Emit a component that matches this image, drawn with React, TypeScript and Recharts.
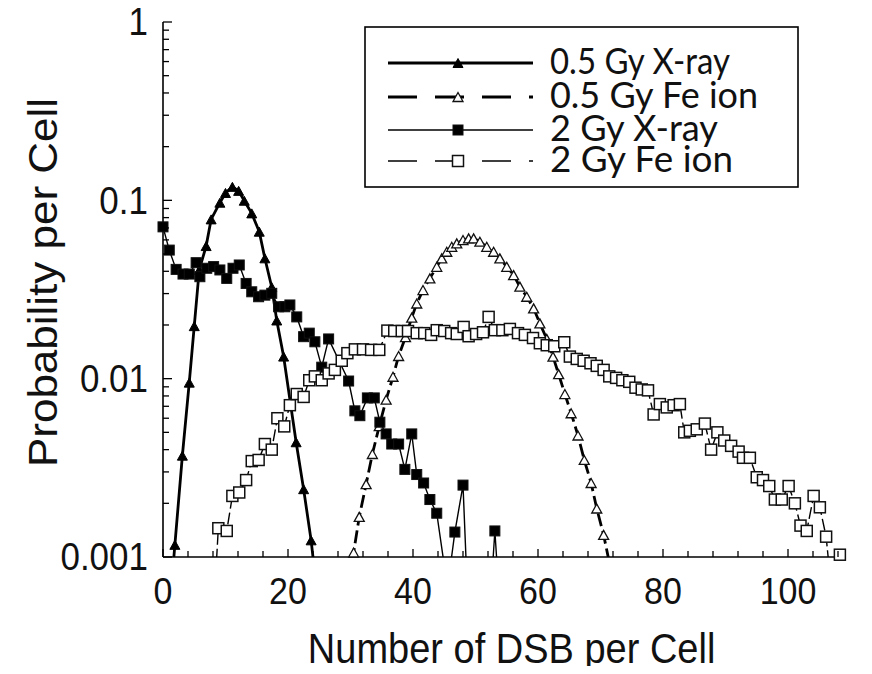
import { Line, LineChart, XAxis, YAxis } from "recharts";

// 0.5 Gy X-ray (solid thick line, filled triangles). Values below 0.001 fall off the log axis.
const xray05X = [0.9, 1.9, 3.1, 4.2, 5.0, 5.8, 6.9, 7.7, 9.1, 10.0, 11.1, 12.1, 13.0, 14.2, 15.4, 16.3, 17.4, 18.2, 19.3, 21.3, 22.5, 23.7, 24.7];
const xray05Y = [0.00044, 0.00117, 0.0037, 0.0095, 0.0197, 0.0407, 0.0554, 0.0782, 0.097, 0.11, 0.119, 0.113, 0.0995, 0.0845, 0.0667, 0.0473, 0.0326, 0.0212, 0.0133, 0.0044, 0.0024, 0.00124, 0.0006];

// 0.5 Gy Fe ion (thick dashed line, open triangles)
const fe05X = [29.4, 30.5, 31.4, 32.5, 33.5, 34.6, 35.7, 36.8, 37.7, 38.8, 39.8, 40.6, 41.6, 42.7, 43.8, 44.6, 45.4, 46.2, 47.0, 48.0, 48.9, 49.7, 50.7, 51.8, 52.9, 53.9, 55.0, 56.1, 57.1, 58.2, 59.3, 60.3, 61.4, 62.4, 63.3, 64.3, 65.3, 66.4, 67.4, 68.5, 69.4, 70.5, 71.5];
const fe05Y = [0.0006, 0.00106, 0.00168, 0.00256, 0.00378, 0.00542, 0.00762, 0.01025, 0.0134, 0.0171, 0.022, 0.0264, 0.0314, 0.0365, 0.0424, 0.0473, 0.0515, 0.0549, 0.0574, 0.0599, 0.0612, 0.0612, 0.0586, 0.0549, 0.0515, 0.0473, 0.0424, 0.0381, 0.0328, 0.0288, 0.0248, 0.0204, 0.0167, 0.0133, 0.0106, 0.0082, 0.0064, 0.0048, 0.0035, 0.0026, 0.00187, 0.00133, 0.0009];

// 2 Gy X-ray (thin solid line, filled squares)
const xray2X = [0, 1.0, 2.1, 3.2, 4.2, 5.3, 5.9, 7.0, 8.1, 9.1, 10.2, 11.2, 12.2, 13.3, 14.2, 15.3, 16.3, 17.4, 18.5, 19.5, 20.3, 21.4, 22.5, 23.4, 24.3, 25.4, 26.5, 29.7, 30.7, 31.5, 32.7, 33.8, 34.7, 35.7, 36.6, 37.7, 38.7, 39.8, 40.6, 41.7, 42.7, 43.8, 45.0, 46.0, 46.7, 48.0, 49.0, 50.0, 51.0, 52.1, 53.1, 54.1];
const xray2Y = [0.071, 0.0526, 0.041, 0.0386, 0.0386, 0.0447, 0.0373, 0.0416, 0.0425, 0.0407, 0.0365, 0.0416, 0.0434, 0.0342, 0.0307, 0.0288, 0.0294, 0.0301, 0.0253, 0.0253, 0.0259, 0.0222, 0.0172, 0.018, 0.0161, 0.0116, 0.0167, 0.0097, 0.0066, 0.0062, 0.0078, 0.0078, 0.0057, 0.0049, 0.0043, 0.0043, 0.0031, 0.0049, 0.0029, 0.0026, 0.0021, 0.00176, 0.0009, 0.0009, 0.00138, 0.00253, 0.00035, 0.0004, 0.0004, 0.0004, 0.0014, 0.0004];

// 2 Gy Fe ion (thin dashed line, open squares)
const fe2X = [7.85, 8.85, 10.2, 11.1, 12.2, 13.3, 14.2, 15.3, 16.3, 17.4, 18.3, 19.4, 20.3, 21.4, 22.5, 23.4, 24.3, 25.4, 26.5, 27.5, 28.6, 29.5, 30.7, 32.0, 33.3, 34.6, 35.9, 37.0, 38.2, 39.2, 40.6, 41.8, 42.9, 43.8, 45.0, 46.1, 47.0, 48.1, 48.9, 50.1, 51.2, 52.1, 53.1, 54.3, 55.5, 56.8, 57.9, 59.2, 60.3, 61.4, 62.6, 64.2, 65.1, 66.2, 67.3, 68.4, 69.4, 70.5, 71.4, 72.5, 73.5, 74.6, 75.6, 76.6, 77.6, 78.5, 79.5, 80.6, 81.7, 82.7, 83.4, 84.3, 85.4, 86.7, 87.7, 88.7, 89.8, 90.9, 92.1, 92.8, 93.9, 95.0, 96.0, 97.0, 97.9, 99.0, 100.1, 101.1, 102.0, 103.0, 104.1, 105.1, 106.1, 107.2, 108.3];
const fe2Y = [0.00034, 0.00145, 0.0014, 0.0022, 0.0023, 0.0027, 0.00345, 0.0035, 0.0043, 0.004, 0.006, 0.0054, 0.0071, 0.0082, 0.0079, 0.0098, 0.0103, 0.0098, 0.0107, 0.0112, 0.0126, 0.0139, 0.0146, 0.0146, 0.0145, 0.0145, 0.0186, 0.0185, 0.0185, 0.0185, 0.018, 0.018, 0.0176, 0.0187, 0.0185, 0.018, 0.0178, 0.0195, 0.0173, 0.0178, 0.0182, 0.0222, 0.0187, 0.0187, 0.019, 0.018, 0.0176, 0.0169, 0.0158, 0.0154, 0.0152, 0.016, 0.0133, 0.0129, 0.0126, 0.0122, 0.0118, 0.0112, 0.0103, 0.0101, 0.0098, 0.0096, 0.0089, 0.0087, 0.0086, 0.0063, 0.0072, 0.0069, 0.0071, 0.0072, 0.005, 0.0051, 0.0052, 0.0056, 0.004, 0.005, 0.0045, 0.0042, 0.0039, 0.0036, 0.0036, 0.0028, 0.0027, 0.0025, 0.0021, 0.0021, 0.0025, 0.002, 0.0015, 0.0014, 0.0022, 0.0019, 0.0013, 0.00053, 0.00103];

const xTicks = [0, 4, 8, 12, 16, 20, 24, 28, 32, 36, 40, 44, 48, 52, 56, 60, 64, 68, 72, 76, 80, 84, 88, 92, 96, 100, 104, 108];
const xTickLabels = [0, 20, 40, 60, 80, 100];
const yTicks = [
  0.001, 0.002, 0.003, 0.004, 0.005, 0.006, 0.007, 0.008, 0.009,
  0.01, 0.02, 0.03, 0.04, 0.05, 0.06, 0.07, 0.08, 0.09,
  0.1, 0.2, 0.3, 0.4, 0.5, 0.6, 0.7, 0.8, 0.9, 1,
];
const yTickLabels: Record<string, string> = { "0.001": "0.001", "0.01": "0.01", "0.1": "0.1", "1": "1" };

type Kind = "triFill" | "triOpen" | "sqFill" | "sqOpen";

// drawing order: bottom first
const series = [
  { name: "0.5 Gy Fe ion", xs: fe05X, ys: fe05Y, width: 2.8, dash: "13 5", marker: "triOpen" as Kind },
  { name: "0.5 Gy X-ray", xs: xray05X, ys: xray05Y, width: 2.8, dash: undefined, marker: "triFill" as Kind },
  { name: "2 Gy X-ray", xs: xray2X, ys: xray2Y, width: 1.4, dash: undefined, marker: "sqFill" as Kind },
  { name: "2 Gy Fe ion", xs: fe2X, ys: fe2Y, width: 1.4, dash: "12 4", marker: "sqOpen" as Kind },
];
const legendOrder = ["0.5 Gy X-ray", "0.5 Gy Fe ion", "2 Gy X-ray", "2 Gy Fe ion"];
const legendTextWidth = [180, 208, 168, 183];

const FLOOR = 0.001;
const AXIS_FONT = "'Liberation Sans', Arial, Helvetica, sans-serif";

// chart layout (chart coordinates)
const W = 856;
const H = 658;
const Y_AXIS_W = 155;
const X_AXIS_H = 109;
const TOP = 14;
const RIGHT = 19.75;
const PLOT_BOTTOM = H - X_AXIS_H;

function Marker({ kind, cx, cy }: { kind: Kind; cx: number; cy: number }) {
  if (kind === "triFill" || kind === "triOpen") {
    const w = 10;
    const h = 9;
    const pts = `${cx - w / 2},${cy + h / 2} ${cx + w / 2},${cy + h / 2} ${cx},${cy - h / 2}`;
    return kind === "triFill" ? (
      <polygon points={pts} fill="#000" stroke="#000" strokeWidth={1} />
    ) : (
      <polygon points={pts} fill="#fff" stroke="#111" strokeWidth={1.3} />
    );
  }
  const s = kind === "sqFill" ? 10 : 11;
  return (
    <rect
      x={cx - s / 2}
      y={cy - s / 2}
      width={s}
      height={s}
      fill={kind === "sqFill" ? "#000" : "#fff"}
      stroke="#111"
      strokeWidth={kind === "sqFill" ? 1 : 1.5}
    />
  );
}

function XTick(props: any) {
  const { x, payload } = props;
  const y = PLOT_BOTTOM;
  const v = payload.value as number;
  const major = xTickLabels.includes(v);
  return (
    <g>
      <line x1={x} x2={x} y1={y} y2={y - (major ? 8 : 6)} stroke="#000" strokeWidth={1.3} />
      {major && (
        <text
          transform={`translate(${x},${y + 47}) scale(1,1.1)`}
          textAnchor="middle"
          fontSize={34}
          fontFamily={AXIS_FONT}
          fill="#111"
        >
          {v}
        </text>
      )}
    </g>
  );
}

function YTick(props: any) {
  const { y, payload } = props;
  const x = Y_AXIS_W;
  const label = yTickLabels[String(payload.value)];
  return (
    <g>
      <line x1={x} x2={x + (label ? 9 : 6)} y1={y} y2={y} stroke="#000" strokeWidth={1.3} />
      {label && (
        <text
          transform={`translate(${x - 15},${y}) scale(1,1.1)`}
          textAnchor="end"
          dy="0.35em"
          fontSize={35}
          fontFamily={AXIS_FONT}
          fill="#111"
        >
          {label}
        </text>
      )}
    </g>
  );
}

function XTitle() {
  const cx = Y_AXIS_W + (W - Y_AXIS_W - RIGHT) / 2 + 8;
  return (
    <text
      transform={`translate(${cx},${PLOT_BOTTOM + 106}) scale(1,1.1)`}
      textAnchor="middle"
      fontSize={38}
      fontFamily={AXIS_FONT}
      fill="#111"
    >
      Number of DSB per Cell
    </text>
  );
}

function YTitle() {
  const cy = TOP + (PLOT_BOTTOM - TOP) / 2 - 7;
  return (
    <text
      transform={`translate(49,${cy}) rotate(-90) scale(1.1,1)`}
      textAnchor="middle"
      fontSize={40}
      fontFamily={AXIS_FONT}
      fill="#111"
    >
      Probability per Cell
    </text>
  );
}

function ChartLegend() {
  const rowY = [55, 89, 122, 153];
  return (
    <svg
      width={W}
      height={H}
      style={{ position: "absolute", left: 0, top: 0, pointerEvents: "none", overflow: "visible" }}
    >
      <YTitle />
      <XTitle />
      <rect x={357} y={19} width={433} height={160} fill="#fff" stroke="#000" strokeWidth={1.6} />
      {legendOrder.map((name, i) => {
        const s = series.find((d) => d.name === name)!;
        const y = rowY[i];
        return (
          <g key={name}>
            <line
              x1={380}
              x2={525}
              y1={y}
              y2={y}
              stroke="#000"
              strokeWidth={s.width + 0.2}
              strokeDasharray={s.dash ? "29 18" : undefined}
            />
            <Marker kind={s.marker} cx={450} cy={y} />
            <text
              transform={`translate(542,${y + 10.5}) scale(1,1.1)`}
              fontSize={34}
              fontFamily="Lato, 'Open Sans', sans-serif"
              fill="#111"
              textLength={legendTextWidth[i]}
              lengthAdjust="spacingAndGlyphs"
            >
              {name}
            </text>
          </g>
        );
      })}
    </svg>
  );
}

export default function App() {
  return (
    <div style={{ position: "relative", width: W, height: H, background: "#fff" }}>
      <LineChart
        width={W}
        height={H}
        margin={{ top: TOP, right: RIGHT, bottom: 0, left: 0 }}
        style={{ overflow: "visible" }}
      >
        <XAxis
          type="number"
          dataKey="x"
          domain={[0, 109]}
          ticks={xTicks}
          interval={0}
          tickSize={0}
          tickMargin={0}
          tickLine={false}
          tick={XTick}
          height={X_AXIS_H}
          axisLine={{ stroke: "#000", strokeWidth: 1.6 }}
        />
        <YAxis
          yAxisId="p"
          type="number"
          scale="log"
          domain={[0.001, 1]}
          allowDataOverflow
          ticks={yTicks}
          interval={0}
          tickSize={0}
          tickMargin={0}
          tickLine={false}
          tick={YTick}
          width={Y_AXIS_W}
          axisLine={{ stroke: "#000", strokeWidth: 1.6 }}
        />
        <YAxis yAxisId="m" orientation="right" type="number" scale="log" domain={[0.001, 1]} width={0} hide />
        {series.flatMap((s) => {
          const pts = s.xs.map((x, i) => ({ x, y: s.ys[i] }));
          const shown = pts.filter((p) => p.y >= FLOOR);
          return [
            <Line
              key={s.name + "-line"}
              yAxisId="p"
              data={pts}
              dataKey="y"
              type="linear"
              stroke="#000"
              strokeWidth={s.width}
              strokeDasharray={s.dash}
              dot={false}
              activeDot={false}
              isAnimationActive={false}
            />,
            <Line
              key={s.name + "-marks"}
              yAxisId="m"
              data={shown}
              dataKey="y"
              type="linear"
              stroke="none"
              dot={(p: any) => <Marker key={`${s.name}-${p.index}`} kind={s.marker} cx={p.cx} cy={p.cy} />}
              activeDot={false}
              isAnimationActive={false}
            />,
          ];
        })}
      </LineChart>
      <ChartLegend />
    </div>
  );
}
